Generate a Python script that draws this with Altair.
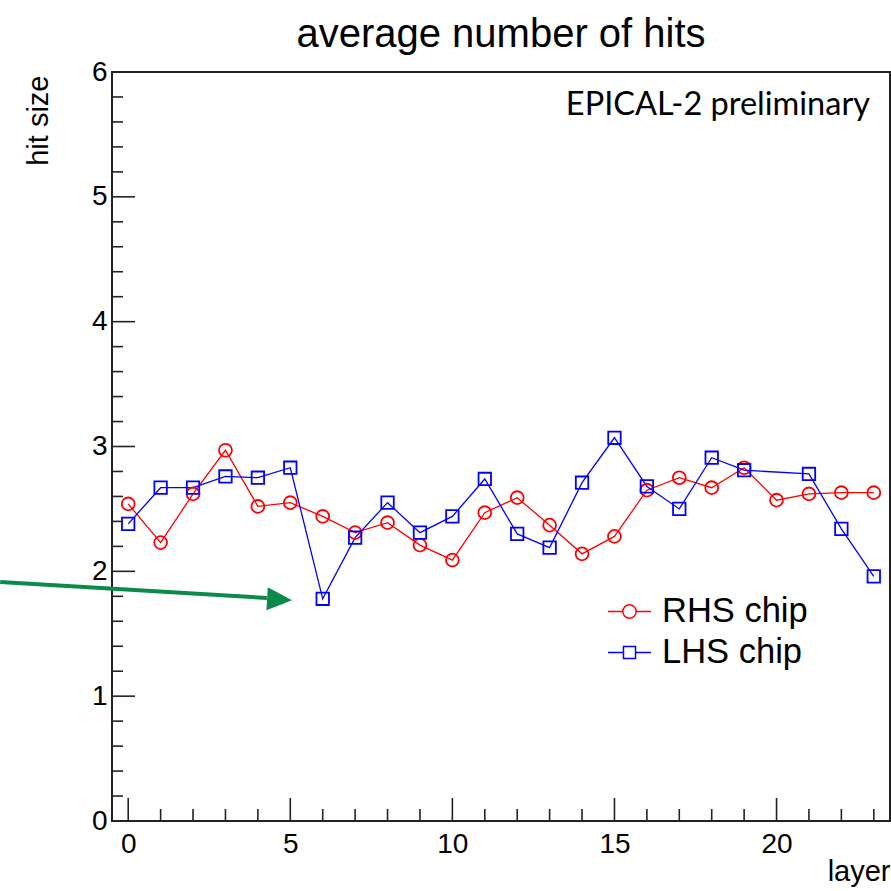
import altair as alt
import pandas as pd

# ---------------- data ----------------
layers = list(range(24))
rhs_hits = [2.54, 2.23, 2.62, 2.97, 2.52, 2.55, 2.44, 2.31, 2.39, 2.21, 2.09, 2.47,
            2.59, 2.37, 2.14, 2.28, 2.65, 2.75, 2.67, 2.83, 2.57, 2.62, 2.63, 2.63]
lhs_layers = list(range(20)) + [21, 22, 23]
lhs_hits = [2.38, 2.67, 2.67, 2.76, 2.75, 2.83, 1.78, 2.27, 2.55, 2.31, 2.44, 2.74,
            2.30, 2.19, 2.71, 3.07, 2.68, 2.50, 2.91, 2.81, 2.78, 2.34, 1.96]
series_names = ["RHS chip", "LHS chip"]
series_colors = ["#ff0000", "#0000ff"]

x_major = [0, 5, 10, 15, 20]
x_minor = [i for i in range(24) if i % 5]
y_major = [0, 1, 2, 3, 4, 5, 6]
y_minor = [round(i * 0.2, 1) for i in range(1, 30) if i % 5]

# annotation arrow (data coordinates)
arrow_start = [-3.95, 1.915]
arrow_end = [4.28, 1.787]
arrow_head = [4.67, 1.775]

title_text = "average number of hits"
note_text = ["EPICAL-2 preliminary"]
x_title = "layer"
y_title = "hit size"

FONT = "Liberation Sans"
FRAME = "#222222"
GREEN = "#0b8a4a"

# ---------------- chart ----------------
df = pd.concat([
    pd.DataFrame({"layer": layers, "hits": rhs_hits, "series": series_names[0]}),
    pd.DataFrame({"layer": lhs_layers, "hits": lhs_hits, "series": series_names[1]}),
], ignore_index=True)

xs = alt.Scale(domain=[-0.5, 23.5], nice=False, zero=False)
ys = alt.Scale(domain=[0, 6], nice=False, zero=False)
cs = alt.Scale(domain=series_names, range=series_colors)

W, H = 778, 749

x_axis = alt.Axis(values=x_major, format="d", ticks=False, tickSize=0,
                  domain=False, grid=False, labelFontSize=28, labelFont=FONT,
                  labelColor="black", labelPadding=9, titleFontSize=29, titleFont=FONT,
                  titleFontWeight="normal", titleColor="black", titleAlign="right",
                  titleBaseline="alphabetic", titleX=W, titleY=59)
y_axis = alt.Axis(values=y_major, format="d", ticks=False, tickSize=0,
                  domain=False, grid=False, labelFontSize=28, labelFont=FONT,
                  labelColor="black", labelPadding=5, titleFontSize=29, titleFont=FONT,
                  titleFontWeight="normal", titleColor="black", titleAngle=270,
                  titleAlign="right", titleBaseline="alphabetic", titleX=-65, titleY=3)


def X(field):
    return alt.X(field, scale=xs, axis=x_axis, title=x_title)


def Y(field):
    return alt.Y(field, scale=ys, axis=y_axis, title=y_title)


legend_paths = [
    "M-1,0H-0.31M0.31,0H1M0.31,0A0.31,0.31,0,1,1,-0.31,0A0.31,0.31,0,1,1,0.31,0",
    "M-1,0H-0.28M0.28,0H1M-0.28,-0.28H0.28V0.28H-0.28Z",
]
leg = alt.Legend(orient="none", legendX=495, legendY=517, labelFontSize=34.5,
                 labelFont=FONT, labelColor="black", symbolSize=1849,
                 symbolStrokeWidth=1.5, rowPadding=2, labelOffset=10, padding=0,
                 labelLimit=400)


def C():
    return alt.Color("series:N", scale=cs, title=None, legend=leg)


base = alt.Chart(df)

lines = base.mark_line(strokeWidth=1.3).encode(x=X("layer:Q"), y=Y("hits:Q"), color=C())

pts_rhs = base.transform_filter(alt.datum.series == series_names[0]).mark_point(
    shape="circle", filled=False, size=165, strokeWidth=1.8, opacity=1
).encode(x=X("layer:Q"), y=Y("hits:Q"), color=C())

pts_lhs = base.transform_filter(alt.datum.series == series_names[1]).mark_point(
    shape="square", filled=False, size=155, strokeWidth=1.8, opacity=1
).encode(x=X("layer:Q"), y=Y("hits:Q"), color=C())

legend_layer = base.transform_filter("false").mark_point(filled=False, opacity=1).encode(
    x=X("layer:Q"), y=Y("hits:Q"), color=C(),
    shape=alt.Shape("series:N", scale=alt.Scale(domain=series_names, range=legend_paths),
                    title=None, legend=leg),
)


def tick_layer(vals, channel, length, width):
    d = alt.Chart(pd.DataFrame({"layer": vals, "hits": vals}))
    m = d.mark_rule(color=FRAME, strokeWidth=width)
    if channel == "y":
        return m.encode(y=Y("hits:Q"), x=alt.value(0), x2=alt.value(length))
    return m.encode(x=X("layer:Q"), y=alt.value(H), y2=alt.value(H - length))


ticks = [
    tick_layer(y_major, "y", 23, 1.6),
    tick_layer(y_minor, "y", 11, 1.6),
    tick_layer(x_major, "x", 23, 1.6),
    tick_layer(x_minor, "x", 12, 1.6),
]

arrow_df = pd.DataFrame({"layer": [arrow_start[0]], "hits": [arrow_start[1]],
                         "layer2": [arrow_end[0]], "hits2": [arrow_end[1]]})
arrow = alt.Chart(arrow_df).mark_rule(color=GREEN, strokeWidth=4, clip=False).encode(
    x=X("layer:Q"), y=Y("hits:Q"), x2="layer2:Q", y2="hits2:Q")
head_df = pd.DataFrame({"layer": [arrow_head[0]], "hits": [arrow_head[1]]})
head = alt.Chart(head_df).mark_point(
    shape="M-1,-0.92L1,0L-1,0.92Z", filled=True, size=625, angle=3.5,
    color=GREEN, opacity=1, strokeWidth=0, clip=False
).encode(x=X("layer:Q"), y=Y("hits:Q"))

note = alt.Chart(pd.DataFrame({"t": note_text})).mark_text(
    align="right", baseline="alphabetic", font="Lato", fontSize=32.5, color="black"
).encode(x=alt.value(758), y=alt.value(43), text="t:N")

chart = alt.layer(
    lines, *ticks, pts_rhs, pts_lhs, legend_layer, arrow, head, note
).properties(
    width=W, height=H,
    background="white",
    title=alt.TitleParams(title_text, fontSize=40, font=FONT, fontWeight="normal",
                          anchor="middle", frame="group", baseline="alphabetic",
                          offset=25, dy=54, color="black"),
    padding={"left": 112, "top": 72, "right": 1, "bottom": 70},
    autosize=alt.AutoSizeParams(type="none"),
).configure_view(stroke=FRAME, strokeWidth=2)

chart.save("out.html", embed_options={"renderer": "svg", "actions": False})
